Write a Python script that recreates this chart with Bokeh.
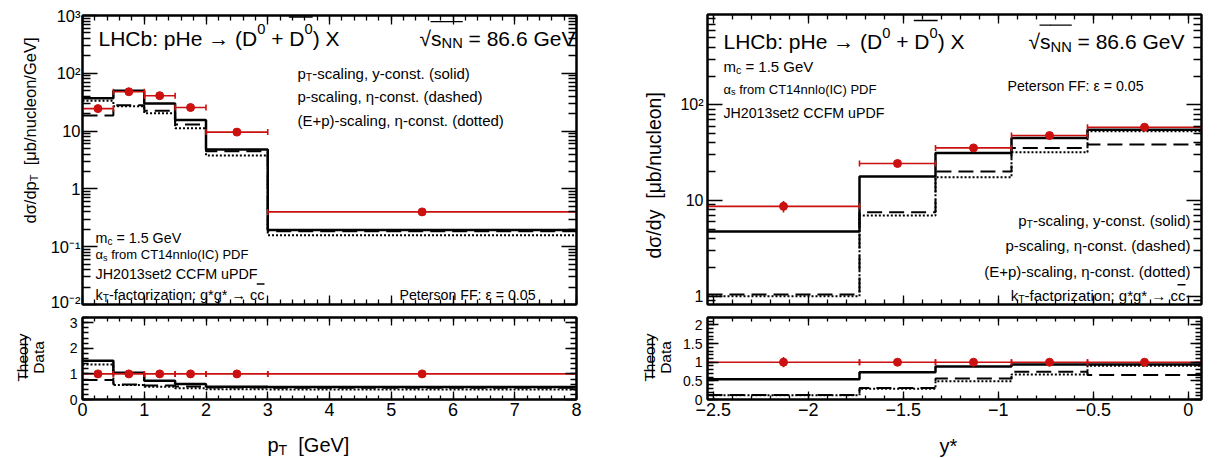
import math
from bokeh.plotting import figure
from bokeh.layouts import row, column
from bokeh.core.properties import value
from bokeh.models import (Label, BoxAnnotation, LinearAxis, LogAxis, FixedTicker,
                          SingleIntervalTicker, CustomJSTickFormatter, Range1d)
from bokeh.embed import file_html
from bokeh.resources import INLINE

FONT = "Liberation Sans"
RED = "#cc1010"

# ---------------- data: left panel (pT) ----------------
pt_edges = [0.0, 0.5, 1.0, 1.5, 2.0, 3.0, 8.0]
pt_data = [24.5, 48.0, 41.0, 25.6, 9.6, 0.40]
pt_err = [1.5, 2.5, 2.2, 1.5, 0.6, 0.02]
pt_solid = [37.0, 50.0, 30.0, 15.5, 4.8, 0.195]
pt_dashed = [18.6, 28.0, 22.5, 13.0, 4.5, 0.185]
pt_dotted = [33.5, 27.0, 20.4, 11.2, 3.8, 0.158]

# ---------------- data: right panel (y*) ----------------
y_edges = [-2.53, -1.73, -1.33, -0.93, -0.53, 0.07]
y_data = [8.7, 24.4, 35.5, 47.8, 58.4]
y_err = [1.2, 1.2, 1.5, 2.0, 2.5]
y_solid = [4.74, 17.8, 31.5, 45.0, 55.0]
y_dashed = [1.04, 7.55, 20.1, 35.5, 38.5]
y_dotted = [1.0, 6.97, 17.5, 32.0, 53.0]

# tick positions
pt_log_ticks = [0.01, 0.1, 1, 10, 100, 1000]
y_log_ticks = [1, 10, 100]

# ---------------- text helpers ----------------
AW = {' ': 278, '!': 278, '(': 333, ')': 333, '*': 389, '+': 584, ',': 278, '-': 333,
      '.': 278, '/': 278, ':': 278, '=': 584, '[': 278, ']': 278,
      'A': 667, 'B': 667, 'C': 722, 'D': 722, 'E': 667, 'F': 611, 'G': 778, 'H': 722,
      'I': 278, 'J': 500, 'K': 667, 'L': 556, 'M': 833, 'N': 722, 'O': 778, 'P': 667,
      'Q': 778, 'R': 722, 'S': 667, 'T': 611, 'U': 722, 'V': 667, 'W': 944, 'X': 667,
      'Y': 667, 'Z': 611,
      'a': 556, 'b': 556, 'c': 500, 'd': 556, 'e': 556, 'f': 278, 'g': 556, 'h': 556,
      'i': 222, 'j': 222, 'k': 500, 'l': 222, 'm': 833, 'n': 556, 'o': 556, 'p': 556,
      'q': 556, 'r': 333, 's': 500, 't': 278, 'u': 556, 'v': 500, 'w': 722, 'x': 500,
      'y': 500, 'z': 500,
      'σ': 600, 'η': 556, 'α': 578, 'ε': 446, 'μ': 576, '→': 1000, '√': 549, '−': 584}
for _d in "0123456789":
    AW[_d] = 556


def box(p, fr, x0, x1, y0, y1, color="black"):
    """Filled rectangle given in page pixels (y downwards)."""
    fl, fb = fr
    p.add_layout(BoxAnnotation(left=x0 - fl, right=x1 - fl, top=fb - y0, bottom=fb - y1,
                               left_units="screen", right_units="screen",
                               top_units="screen", bottom_units="screen",
                               fill_color=color, fill_alpha=1.0, line_color=None,
                               line_alpha=0))


def rich(p, fr, X, Y, segs, fs, align="left", angle=0.0, color="black"):
    """Draw text pieces (normal / sub / sup, optional overline) from page baseline (X, Y)."""
    fl, fb = fr
    dx, dy = math.cos(angle), -math.sin(angle)
    ux, uy = -math.sin(angle), -math.cos(angle)
    items = []
    total = 0.0
    for seg in segs:
        text, kind = seg[0], seg[1]
        bar = seg[2] if len(seg) > 2 else None
        f = fs * 0.7 if kind in ("sub", "sup") else fs
        w = sum(AW.get(ch, 556) for ch in text) * f / 1000.0
        items.append((text, kind, bar, f, w))
        total += w
    if align == "right":
        X -= total * dx
        Y -= total * dy
    elif align == "center":
        X -= total * dx / 2
        Y -= total * dy / 2
    for text, kind, bar, f, w in items:
        shift = -0.25 * fs if kind == "sub" else (0.42 * fs if kind == "sup" else 0.0)
        px, py = X + ux * shift, Y + uy * shift
        p.add_layout(Label(x=px - fl, y=fb - py, x_units="screen", y_units="screen",
                           text=text.replace(" ", "\u00a0"), angle=angle, text_font=FONT,
                           text_font_size=f"{f:.1f}px", text_color=color,
                           text_baseline="alphabetic", text_align="left"))
        if bar is not None:
            by = Y - bar * fs
            box(p, fr, X - 0.5, X + w, by - 0.7, by + 0.7, color)
        X += w * dx
        Y += w * dy


def vtext(p, X, Y, text, fs):
    """Vertical (rotated) text glyph centred at page point (X baseline, Y centre)."""
    p.text(x=[X], y=[458 - Y], text=[text], angle=math.pi / 2, text_font=value(FONT),
           text_font_size=f"{fs}px", text_color="black", text_align="center",
           text_baseline="alphabetic")


# ---------------- formatters ----------------
log_fmt = CustomJSTickFormatter(code="""
const e = Math.round(Math.log10(tick));
if (e === 0) return "1";
if (e === 1) return "10";
const m = {"-": "\u207B", "0": "\u2070", "1": "\u00B9", "2": "\u00B2", "3": "\u00B3"};
return "10" + String(e).split("").map(c => m[c]).join("");
""")
num_fmt = CustomJSTickFormatter(code="""
const v = Math.round(tick * 100) / 100;
return v < 0 ? "\u2212" + String(-v) : String(v);
""")
empty_fmt = CustomJSTickFormatter(code="return '';")


def style_axis(ax, ticker, fmt, tin, tmin, fs=16, standoff=4):
    ax.ticker = ticker
    ax.formatter = fmt
    ax.major_tick_in = tin
    ax.major_tick_out = 0
    ax.minor_tick_in = tmin
    ax.minor_tick_out = 0
    ax.major_tick_line_width = 1.3
    ax.minor_tick_line_width = 1.3
    ax.major_tick_line_color = "black"
    ax.minor_tick_line_color = "black"
    ax.axis_line_width = 2
    ax.axis_line_color = "black"
    ax.major_label_text_font = FONT
    ax.major_label_text_font_size = f"{fs}px"
    ax.major_label_text_color = "black"
    ax.major_label_standoff = standoff
    ax.axis_label = None


def base_fig(xr, yr, ylog, fw, fh, bl, br, bt, bb):
    p = figure(x_range=Range1d(*xr), y_range=Range1d(*yr),
               y_axis_type="log" if ylog else "linear",
               frame_width=fw, frame_height=fh,
               min_border_left=bl, min_border_right=br,
               min_border_top=bt, min_border_bottom=bb,
               output_backend="svg", toolbar_location=None)
    p.xgrid.visible = False
    p.ygrid.visible = False
    p.outline_line_color = "black"
    p.outline_line_width = 2
    p.background_fill_color = "white"
    p.border_fill_color = "white"
    return p


def blank_fig(w, h, xr=(0, 1), yr=(0, 1)):
    p = figure(frame_width=w, frame_height=h, x_range=Range1d(*xr), y_range=Range1d(*yr),
               min_border_left=0, min_border_right=0, min_border_top=0, min_border_bottom=0,
               x_axis_location=None, y_axis_location=None,
               output_backend="svg", toolbar_location=None)
    p.xgrid.visible = False
    p.ygrid.visible = False
    p.outline_line_color = None
    p.background_fill_color = "white"
    p.border_fill_color = "white"
    return p


def add_frame_axes(p, xt, yt, ylog, xin, xmin, yin, ymin, xfmt, yfmt, xfs, yfs, xso, yso):
    style_axis(p.xaxis[0], xt, xfmt, xin, xmin, xfs, xso)
    style_axis(p.yaxis[0], yt, yfmt, yin, ymin, yfs, yso)
    top = LinearAxis()
    style_axis(top, xt, empty_fmt, xin, xmin, 1, 0)
    p.add_layout(top, "above")
    right = LogAxis() if ylog else LinearAxis()
    style_axis(right, yt, empty_fmt, yin, ymin, 1, 0)
    p.add_layout(right, "right")


def draw_hist(p, edges, vals, **kw):
    p.step(x=edges, y=list(vals) + [vals[-1]], mode="after", line_color="black", **kw)


def draw_data(p, edges, vals, errs):
    lo = list(edges[:-1])
    hi = list(edges[1:])
    c = [(a + b) / 2 for a, b in zip(lo, hi)]
    p.segment(x0=lo, x1=hi, y0=vals, y1=vals, line_color=RED, line_width=1.6)
    p.segment(x0=c, x1=c, y0=[v - e for v, e in zip(vals, errs)],
              y1=[v + e for v, e in zip(vals, errs)], line_color=RED, line_width=1.6)
    p.scatter(x=lo + hi, y=list(vals) + list(vals), marker="dash", angle=math.pi / 2,
              size=6, line_color=RED, line_width=1.6)
    p.scatter(x=c, y=vals, size=8, fill_color=RED, line_color=RED)


def ratio(a, b):
    return [x / y for x, y in zip(a, b)]


SOLID = dict(line_width=2.5)
DASHED = dict(line_width=2, line_dash="15 7")
DOTTED = dict(line_width=2, line_dash="2 2")

# ---------------- geometry (page coordinates of frame left / bottom) ----------------
LFR_MAIN = (82, 304)
LFR_RAT = (82, 399)
RFR_MAIN = (707, 304)
RFR_RAT = (707, 399)
LTITLE = (0, 458)
LXT = (82, 458)
RTITLE = (608, 458)
RXT = (707, 458)

pt_minor = [m * 10.0 ** k for k in range(-2, 3) for m in range(2, 10)]
y_minor = [m * 10.0 ** k for k in range(-1, 3) for m in range(2, 10)]

TITLE_SEGS = [("LHCb: pHe → (D", "n"), ("0", "sup"), (" + ", "n"),
              ("D", "n", 1.0), ("0", "sup", 1.0), (") X", "n")]
SQRT_SEGS = [("√", "n"), ("s", "n", 0.78), ("NN", "sub", 0.78), (" = 86.6 GeV", "n")]
KT_SEGS = [("k", "n"), ("T", "sub"), ("-factorization: g*g* → c", "n"), ("c", "n", 0.72)]
PT_SEGS = [("p", "n"), ("T", "sub"), ("-scaling, y-const. (solid)", "n")]

# ================= LEFT MAIN =================
lm = base_fig((0, 8), (0.01, 1000), True, 494, 289, 35, 32, 15, 6)
add_frame_axes(lm, SingleIntervalTicker(interval=1, num_minor_ticks=5),
               FixedTicker(ticks=pt_log_ticks, minor_ticks=pt_minor), True,
               9, 5, 15, 8, empty_fmt, log_fmt, 1, 16.5, 0, 2)
draw_hist(lm, pt_edges, pt_solid, **SOLID)
draw_hist(lm, pt_edges, pt_dashed, **DASHED)
draw_hist(lm, pt_edges, pt_dotted, **DOTTED)
draw_data(lm, pt_edges, pt_data, pt_err)

rich(lm, LFR_MAIN, 98, 37.5, TITLE_SEGS, 21)
rich(lm, LFR_MAIN, 419, 37.5, SQRT_SEGS, 21)
rich(lm, LFR_MAIN, 297, 73, PT_SEGS, 15)
rich(lm, LFR_MAIN, 297, 96, [("p-scaling, η-const. (dashed)", "n")], 15)
rich(lm, LFR_MAIN, 297, 120, [("(E+p)-scaling, η-const. (dotted)", "n")], 15)
rich(lm, LFR_MAIN, 95, 237, [("m", "n"), ("c", "sub"), (" = 1.5 GeV", "n")], 14.3)
rich(lm, LFR_MAIN, 95, 254, [("α", "n"), ("s", "sub"), (" from CT14nnlo(IC) PDF", "n")], 13)
rich(lm, LFR_MAIN, 95, 273, [("JH2013set2 CCFM uPDF", "n")], 14.3)
rich(lm, LFR_MAIN, 95, 294, KT_SEGS, 14.5)
rich(lm, LFR_MAIN, 399, 294, [("Peterson FF: ε = 0.05", "n")], 14.2)

# ================= LEFT RATIO =================
lr = base_fig((0, 8), (0, 3.2), False, 494, 82, 35, 32, 7, 22)
add_frame_axes(lr, SingleIntervalTicker(interval=1, num_minor_ticks=5),
               SingleIntervalTicker(interval=1, num_minor_ticks=5), False,
               8, 4, 11, 6, num_fmt, num_fmt, 18, 14, 3, 5)
draw_hist(lr, pt_edges, ratio(pt_solid, pt_data), **SOLID)
draw_hist(lr, pt_edges, ratio(pt_dashed, pt_data), **DASHED)
draw_hist(lr, pt_edges, ratio(pt_dotted, pt_data), **DOTTED)
draw_data(lr, pt_edges, ratio(pt_data, pt_data), ratio(pt_err, pt_data))

# ================= LEFT TITLES =================
lt = blank_fig(47, 458, (0, 47), (0, 458))
rich(lt, LTITLE, 29.5, 130, [("dσ/dp", "n"), ("T", "sub"), ("  [μb/nucleon/GeV]", "n")],
     16.5, align="center", angle=math.pi / 2)
vtext(lt, 21.5, 357, "Theory", 15.5)
vtext(lt, 37.5, 357, "Data", 15.5)
lt.segment(x0=[25], y0=[458 - 336], x1=[25], y1=[458 - 378], line_color="black",
           line_width=1.4)

lxt = blank_fig(526, 37)
rich(lxt, LXT, 267, 444, [("p", "n"), ("T", "sub"), ("  [GeV]", "n")], 20)

# ================= RIGHT MAIN =================
rm = base_fig((-2.53, 0.07), (0.82, 880), True, 494, 290, 30, 18, 14, 6)
add_frame_axes(rm, SingleIntervalTicker(interval=0.5, num_minor_ticks=5),
               FixedTicker(ticks=y_log_ticks, minor_ticks=y_minor), True,
               9, 5, 15, 8, empty_fmt, log_fmt, 1, 16, 0, 4)
draw_hist(rm, y_edges, y_solid, **SOLID)
draw_hist(rm, y_edges, y_dashed, **DASHED)
draw_hist(rm, y_edges, y_dotted, **DOTTED)
draw_data(rm, y_edges, y_data, y_err)

rich(rm, RFR_MAIN, 723, 41, TITLE_SEGS, 21)
rich(rm, RFR_MAIN, 1028, 41, SQRT_SEGS, 21)
rich(rm, RFR_MAIN, 723, 66, [("m", "n"), ("c", "sub"), (" = 1.5 GeV", "n")], 15)
rich(rm, RFR_MAIN, 723, 88.5, [("α", "n"), ("s", "sub"), (" from CT14nnlo(IC) PDF", "n")], 13)
rich(rm, RFR_MAIN, 723, 112, [("JH2013set2 CCFM uPDF", "n")], 14.2)
rich(rm, RFR_MAIN, 1007, 85, [("Peterson FF: ε = 0.05", "n")], 14.2)
rich(rm, RFR_MAIN, 1190, 220, PT_SEGS, 15, align="right")
rich(rm, RFR_MAIN, 1190, 245, [("p-scaling, η-const. (dashed)", "n")], 15, align="right")
rich(rm, RFR_MAIN, 1190, 271, [("(E+p)-scaling, η-const. (dotted)", "n")], 15, align="right")
rich(rm, RFR_MAIN, 1185, 295, KT_SEGS, 15, align="right")

# ================= RIGHT RATIO =================
rr = base_fig((-2.53, 0.07), (0, 2.2), False, 494, 82, 30, 18, 7, 22)
add_frame_axes(rr, SingleIntervalTicker(interval=0.5, num_minor_ticks=5),
               SingleIntervalTicker(interval=0.5, num_minor_ticks=5), False,
               8, 4, 11, 6, num_fmt, num_fmt, 18, 14, 3, 5)
draw_hist(rr, y_edges, ratio(y_solid, y_data), **SOLID)
draw_hist(rr, y_edges, ratio(y_dashed, y_data), **DASHED)
draw_hist(rr, y_edges, ratio(y_dotted, y_data), **DOTTED)
draw_data(rr, y_edges, ratio(y_data, y_data), ratio(y_err, y_data))

# ================= RIGHT TITLES =================
rt = blank_fig(69, 458, (608, 677), (0, 458))
rich(rt, RTITLE, 653, 175, [("dσ/dy  [μb/nucleon]", "n")], 19.5, align="center",
     angle=math.pi / 2)
vtext(rt, 648.5, 357, "Theory", 15.5)
vtext(rt, 665, 357, "Data", 15.5)
rt.segment(x0=[652], y0=[458 - 336], x1=[652], y1=[458 - 378], line_color="black",
           line_width=1.4)

rxt = blank_fig(512, 37)
rich(rxt, RXT, 948, 445, [("y*", "n")], 20, align="center")

layout = row(lt, column(lm, lr, lxt), rt, column(rm, rr, rxt))
open("out.html", "w").write(file_html(layout, INLINE))
